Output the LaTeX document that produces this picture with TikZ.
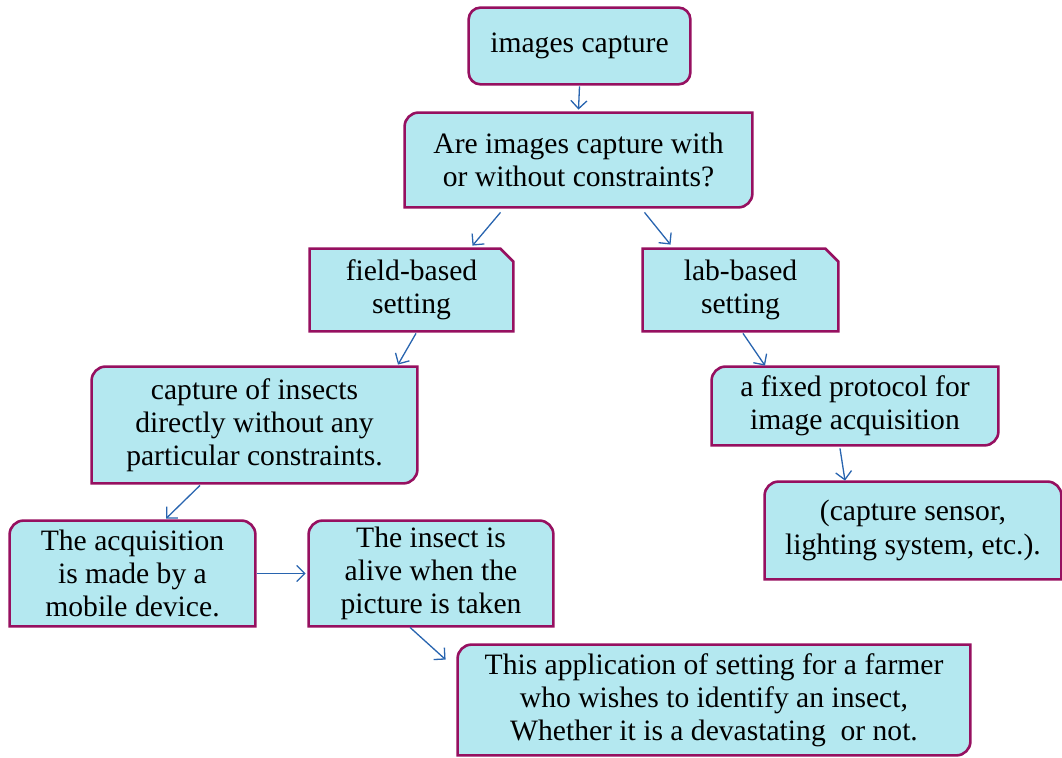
\documentclass[tikz,border=0pt]{standalone}
\usepackage{fontspec}
\setmainfont{Liberation Serif}
\usetikzlibrary{calc,arrows.meta,backgrounds}

\definecolor{boxfill}{RGB}{180,232,240}
\definecolor{boxline}{RGB}{150,16,96}
\definecolor{arrowblue}{RGB}{40,100,175}

% outlines drawn round the named nodes
\newcommand{\shapeall}[1]{\filldraw[outline, rounded corners=6pt] (#1.north west) rectangle (#1.south east);}
\newcommand{\shapediag}[1]{\filldraw[outline] ([xshift=7pt]#1.north west) -- (#1.north east) -- ([yshift=7pt]#1.south east) arc[start angle=0, end angle=-90, radius=7pt] -- (#1.south west) -- ([yshift=-7pt]#1.north west) arc[start angle=180, end angle=90, radius=7pt] -- cycle;}
\newcommand{\shapetop}[1]{\filldraw[outline] ([xshift=7pt]#1.north west) -- ([xshift=-7pt]#1.north east) arc[start angle=90, end angle=0, radius=7pt] -- (#1.south east) -- (#1.south west) -- ([yshift=-7pt]#1.north west) arc[start angle=180, end angle=90, radius=7pt] -- cycle;}
\newcommand{\shapesnip}[1]{\filldraw[outline] (#1.north west) -- ([xshift=-6.5pt]#1.north east) -- ([yshift=-6.5pt]#1.north east) -- (#1.south east) -- (#1.south west) -- cycle;}

\begin{document}
\begin{tikzpicture}[x=0.5pt, y=-0.5pt,
    box/.style={inner sep=0pt, align=center, font=\fontsize{14.8}{16.6}\selectfont},
    outline/.style={fill=boxfill, draw=boxline, line width=1.3pt},
    arr/.style={draw=arrowblue, line width=0.65pt, -{Straight Barb[length=4pt, width=8pt]}}]
    \useasboundingbox (0,0) rectangle (1062,758);
    % Top of the tree
    \node[box, minimum width=110.5pt, minimum height=38pt] (cap) at (579.5,46) {images capture};
    \node[box, minimum width=173.5pt, minimum height=47pt] (are) at (578.5,160) {Are images capture with\\or without constraints?};
    % Settings
    \node[box, minimum width=101.5pt, minimum height=41pt] (field) at (411.5,290) {field-based\\setting};
    \node[box, minimum width=97.5pt, minimum height=41pt] (lab) at (740.5,290) {lab-based\\setting};
    % Field branch
    \node[box, minimum width=162.5pt, minimum height=58pt] (insects) at (254.5,425) {capture of insects\\directly without any\\particular constraints.};
    \node[box, minimum width=122.5pt, minimum height=52.5pt] (acq) at (132.5,573.5) {The acquisition\\is made by a\\mobile device.};
    \node[box, minimum width=122pt, minimum height=52.5pt] (alive) at (431,573.5) {The insect is\\alive when the\\picture is taken};
    \node[box, minimum width=256pt, minimum height=55pt] (app) at (714,700) {This application of setting for a farmer\\who wishes to identify an insect,\\Whether it is a devastating~ or not.};
    % Lab branch
    \node[box, minimum width=143pt, minimum height=39pt] (protocol) at (855,406) {a fixed protocol for\\image acquisition};
    \node[box, minimum width=148pt, minimum height=48.5pt] (sensor) at (913,530.5) {(capture sensor,\\lighting system, etc.).};
    % Box outlines
    \begin{pgfonlayer}{background}
        \shapeall{cap}
        \shapediag{are}
        \shapesnip{field}
        \shapesnip{lab}
        \foreach \n in {insects,protocol,app} {\shapediag{\n}}
        \foreach \n in {acq,alive,sensor} {\shapetop{\n}}
    \end{pgfonlayer}
    % Connections
    \draw[arr] ($(cap.south)+(0,2)$) -- ($(are.north)+(0,-3)$);
    \draw[arr] ($(are.south)+(-78,5)$) -- ($(field.north)+(61,-3)$);
    \draw[arr] ($(are.south)+(66,5)$) -- ($(lab.north)+(-70,-4)$);
    \draw[arr] ($(field.south)+(4.5,2)$) -- ($(insects.north)+(143.5,-2)$);
    \draw[arr] ($(lab.south)+(2.5,2)$) -- ($(protocol.north)+(-90,-1)$);
    \draw[arr] ($(protocol.south)+(-15,3)$) -- ($(sensor.north)+(-68,-1)$);
    \draw[arr] ($(insects.south)+(-54.5,2)$) -- ($(acq.north)+(33.5,-2)$);
    \draw[arr] ($(acq.east)+(2,0)$) -- ($(alive.west)+(-3,0)$);
    \draw[arr] ($(alive.south)+(-21,1)$) -- ($(app.north west)+(-12,15)$);
\end{tikzpicture}
\end{document}
